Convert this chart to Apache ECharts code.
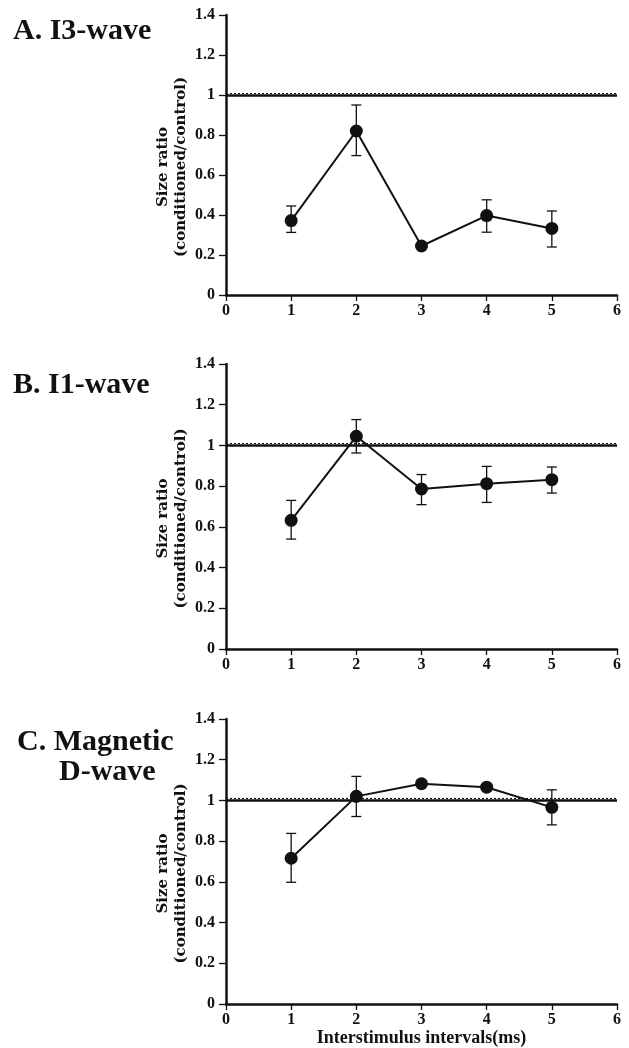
<!DOCTYPE html>
<html>
<head>
<meta charset="utf-8">
<script src="https://cdn.jsdelivr.net/npm/echarts@6/dist/echarts.min.js"></script>
<style>
  html, body { margin: 0; padding: 0; background: #fff; }
  #main { width: 629px; height: 1048px; }
</style>
</head>
<body>
<div id="main"></div>
<script>
// 数据
var intervals = [1, 2, 3, 4, 5];
var xTicks = [0, 1, 2, 3, 4, 5, 6];
var yTicks = [0, 0.2, 0.4, 0.6, 0.8, 1, 1.2, 1.4];

var i3Mean  = [0.372, 0.820, 0.245, 0.397, 0.333];
var i3Upper = [0.445, 0.950, null, 0.476, 0.420];
var i3Lower = [0.313, 0.697, null, 0.314, 0.240];

var i1Mean  = [0.632, 1.045, 0.786, 0.812, 0.832];
var i1Upper = [0.730, 1.127, 0.857, 0.897, 0.894];
var i1Lower = [0.540, 0.963, 0.709, 0.720, 0.766];

var dMean  = [0.716, 1.020, 1.082, 1.065, 0.966];
var dUpper = [0.838, 1.118, null, null, 1.052];
var dLower = [0.598, 0.921, null, null, 0.880];

var panelTitles = ['A. I3-wave', 'B. I1-wave', 'C. Magnetic', 'D-wave'];
var yName = 'Size ratio\n(conditioned/control)';
var xName = 'Interstimulus intervals(ms)';

var serif = 'Liberation Serif, Times New Roman, serif';
var ink = '#111';

// 三个面板的位置
var grids = [
  { left: 226, width: 391, top: 15, height: 280 },
  { left: 226, width: 391, top: 364, height: 285 },
  { left: 226, width: 391, top: 719, height: 285 }
];

function pairs(ys) {
  return intervals.map(function (x, i) { return [x, ys[i]]; });
}
function bars(lo, hi) {
  var out = [];
  intervals.forEach(function (x, i) {
    if (lo[i] != null && hi[i] != null) out.push([x, lo[i], hi[i]]);
  });
  return out;
}

// 误差线
function renderErr(params, api) {
  var x = api.value(0);
  var lo = api.coord([x, api.value(1)]);
  var hi = api.coord([x, api.value(2)]);
  var w = 5;
  var st = { stroke: ink, lineWidth: 1.3 };
  return {
    type: 'group',
    children: [
      { type: 'line', shape: { x1: lo[0], y1: lo[1], x2: hi[0], y2: hi[1] }, style: st },
      { type: 'line', shape: { x1: hi[0] - w, y1: hi[1], x2: hi[0] + w, y2: hi[1] }, style: st },
      { type: 'line', shape: { x1: lo[0] - w, y1: lo[1], x2: lo[0] + w, y2: lo[1] }, style: st }
    ]
  };
}

var sets = [
  [i3Mean, i3Lower, i3Upper],
  [i1Mean, i1Lower, i1Upper],
  [dMean, dLower, dUpper]
];

var xAxes = [], yAxes = [], series = [];
grids.forEach(function (g, k) {
  xAxes.push({
    gridIndex: k, type: 'value', min: xTicks[0], max: xTicks[xTicks.length - 1], interval: 1,
    name: k === 2 ? xName : '',
    nameLocation: 'middle', nameGap: 23,
    nameTextStyle: { fontFamily: serif, fontWeight: 'bold', fontSize: 18, color: ink },
    axisLine: { lineStyle: { color: ink, width: 2.5 } },
    axisTick: { length: 6, lineStyle: { color: ink, width: 1.3 } },
    axisLabel: { margin: 8, fontFamily: serif, fontWeight: 'bold', fontSize: 16, color: ink },
    splitLine: { show: false }
  });
  yAxes.push({
    gridIndex: k, type: 'value', min: yTicks[0], max: yTicks[yTicks.length - 1], interval: 0.2,
    name: yName, nameLocation: 'middle', nameGap: 36, nameMoveOverlap: false,
    nameTextStyle: { fontFamily: 'DejaVu Serif', fontWeight: 'bold', fontSize: 15, lineHeight: 18, color: ink, padding: [0, 24, 0, 0] },
    axisLine: { show: true, lineStyle: { color: ink, width: 2.5 } },
    axisTick: { show: true, length: 7, lineStyle: { color: ink, width: 1.3 } },
    axisLabel: { margin: 11, fontFamily: serif, fontWeight: 'bold', fontSize: 16, color: ink },
    splitLine: { show: false }
  });
  var s = sets[k];
  series.push({
    type: 'custom', xAxisIndex: k, yAxisIndex: k, z: 2,
    renderItem: renderErr, data: bars(s[1], s[2])
  });
  series.push({
    type: 'line', xAxisIndex: k, yAxisIndex: k, z: 3,
    data: pairs(s[0]),
    symbol: 'circle', symbolSize: 13, showSymbol: true,
    itemStyle: { color: ink },
    lineStyle: { color: ink, width: 2 },
    markLine: {
      silent: true, symbol: 'none', label: { show: false },
      data: [
        { yAxis: 1, lineStyle: { color: ink, width: 2.5, type: 'solid' } },
        { yAxis: 1.008, lineStyle: { color: ink, width: 1.2, type: [2, 2] } }
      ]
    }
  });
});

var titleStyle = { fontFamily: serif, fontWeight: 'bold', fontSize: 30, color: ink, lineHeight: 30 };
var chart = echarts.init(document.getElementById('main'));
chart.setOption({
  animation: false,
  backgroundColor: '#fff',
  title: [
    { text: panelTitles[0], left: 13, top: 16, padding: 0, textStyle: titleStyle },
    { text: panelTitles[1], left: 13, top: 370, padding: 0, textStyle: titleStyle },
    { text: panelTitles[2], left: 17, top: 727, padding: 0, textStyle: titleStyle },
    { text: panelTitles[3], left: 59, top: 757, padding: 0, textStyle: titleStyle }
  ],
  grid: grids,
  xAxis: xAxes,
  yAxis: yAxes,
  series: series
});
</script>
</body>
</html>
